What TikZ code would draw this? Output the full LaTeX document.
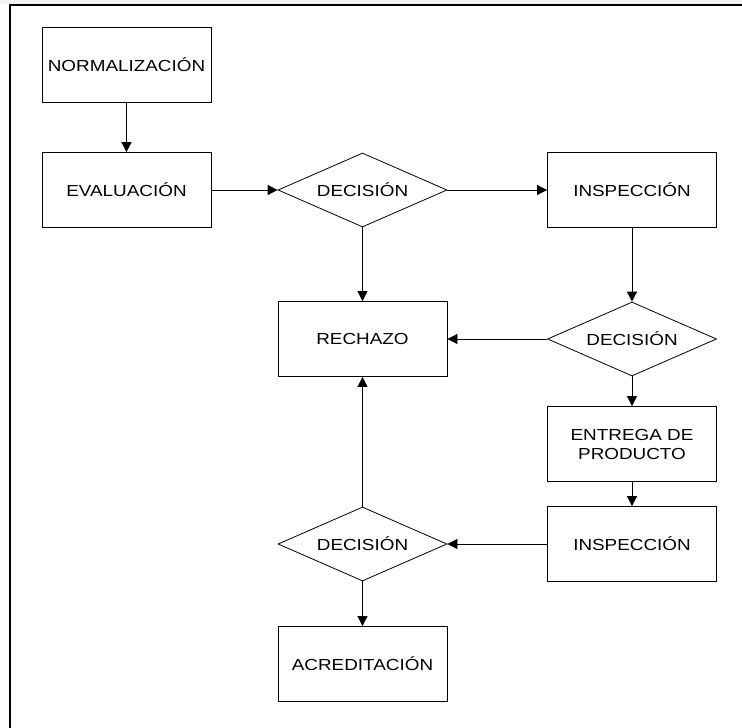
\documentclass[tikz,border=0pt]{standalone}
\usepackage{fontspec}
\setmainfont{Liberation Sans}
\usetikzlibrary{shapes.geometric,arrows.meta}
\newcommand{\lbl}[1]{\scalebox{1.18}[1]{#1}}
\begin{document}
\begin{tikzpicture}[x=1pt,y=-1pt,
  every node/.style={font=\fontsize{16}{19}\selectfont, inner sep=0pt, line width=0.8pt},
  procbox/.style={draw, rectangle, minimum width=169pt, minimum height=75pt, align=center},
  decbox/.style={draw, diamond, aspect=2.28, minimum width=169pt, minimum height=74pt},
  conn/.style={line width=0.8pt, -{Triangle[length=10pt,width=10pt]}}]
\useasboundingbox (0,0) rectangle (742,728);
\fill[gray!10] (0,0) rectangle (742,4);
\coordinate (tl) at (9.5,5);
\coordinate (tr) at (742,5);
\coordinate (bl) at (9.5,728);
\draw[line width=2pt] (tr) -- (tl) -- (bl);

\node[procbox] (norm) at (126.5,65) {\lbl{NORMALIZACIÓN}};
\node[procbox] (eval) at (126.5,190) {\lbl{EVALUACIÓN}};
\node[decbox] (d1) at (362.5,190) {\lbl{DECISIÓN}};
\node[procbox] (insp1) at (632,190) {\lbl{INSPECCIÓN}};
\node[procbox] (rech) at (362.5,339) {\lbl{RECHAZO}};
\node[decbox] (d2) at (632,339) {\lbl{DECISIÓN}};
\node[procbox] (entr) at (632,444) {\lbl{ENTREGA DE}\\\lbl{PRODUCTO}};
\node[procbox] (insp2) at (632,544) {\lbl{INSPECCIÓN}};
\node[decbox] (d3) at (362.5,544) {\lbl{DECISIÓN}};
\node[procbox] (acre) at (362.5,664) {\lbl{ACREDITACIÓN}};

\draw[conn] (norm) -- (eval);
\draw[conn] (eval) -- (d1);
\draw[conn] (d1) -- (insp1);
\draw[conn] (d1) -- (rech);
\draw[conn] (insp1) -- (d2);
\draw[conn] (d2) -- (rech);
\draw[conn] (d2) -- (entr);
\draw[conn] (entr) -- (insp2);
\draw[conn] (insp2) -- (d3);
\draw[conn] (d3) -- (rech);
\draw[conn] (d3) -- (acre);
\end{tikzpicture}
\end{document}
